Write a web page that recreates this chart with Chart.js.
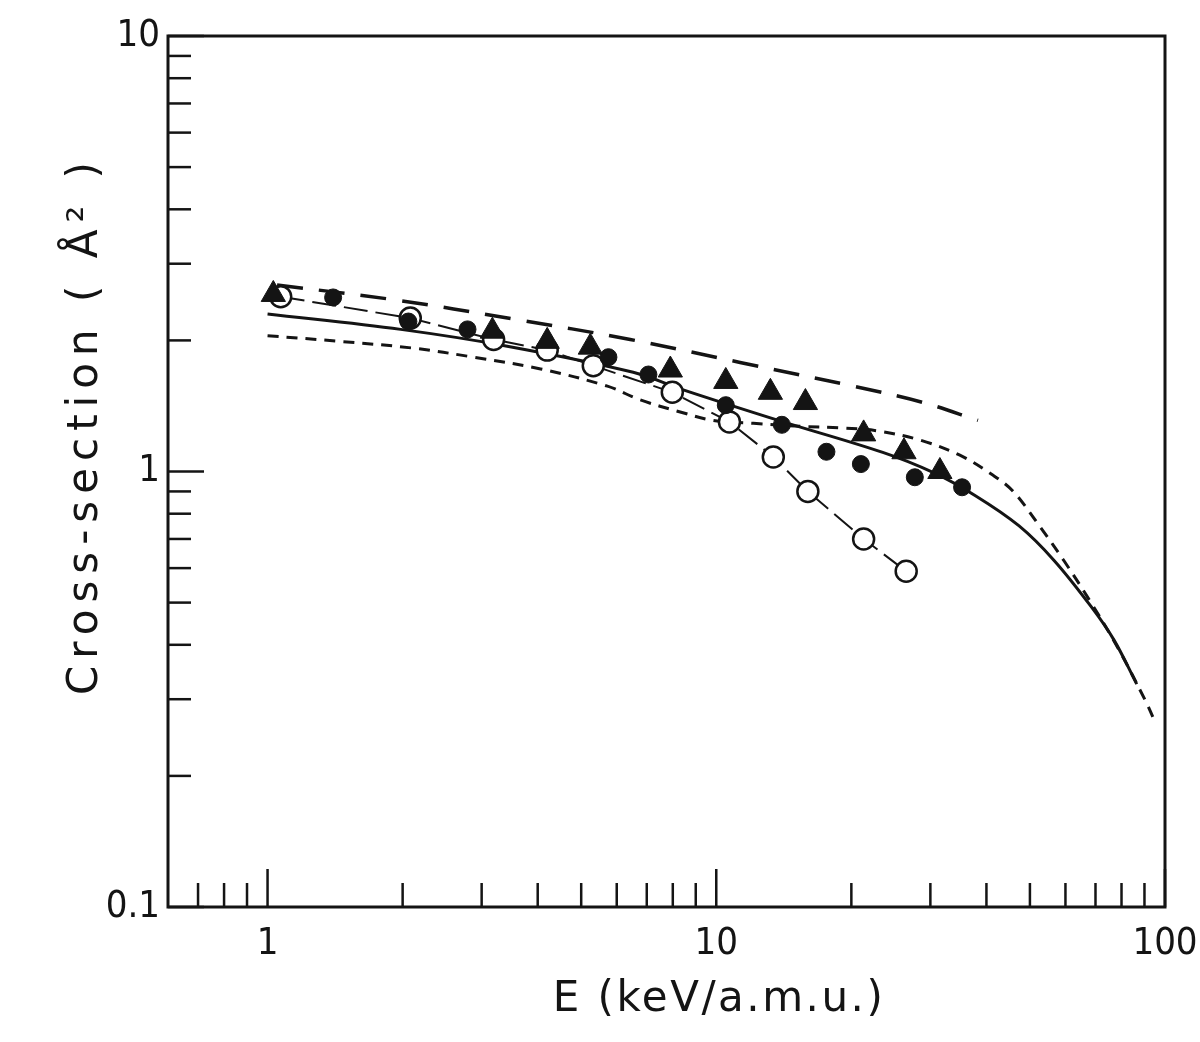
<!DOCTYPE html>
<html lang="en">
<head>
<meta charset="UTF-8">
<title>Cross-section vs E</title>
<script src="https://cdn.jsdelivr.net/npm/chart.js@4.4.1/dist/chart.umd.min.js"></script>
<style>
  html, body { margin: 0; padding: 0; background: #fff; }
  canvas { display: block; }
</style>
</head>
<body>
<canvas id="grafico" width="1200" height="1042"></canvas>
<script>
// Triángulos llenos (energía en keV/a.m.u., sección eficaz en Å²)
const energiaTriangulos = [1.03, 3.17, 4.2, 5.24, 7.9, 10.5, 13.2, 15.8, 21.3, 26.2, 31.5];
const seccionTriangulos = [2.55, 2.10, 1.99, 1.93, 1.71, 1.61, 1.52, 1.44, 1.22, 1.11, 1.00];

// Círculos llenos
const energiaPuntos = [1.40, 2.06, 2.79, 5.75, 7.06, 10.5, 14.0, 17.6, 21.0, 27.7, 35.3];
const seccionPuntos = [2.51, 2.21, 2.12, 1.83, 1.67, 1.42, 1.28, 1.11, 1.04, 0.97, 0.92];

// Círculos abiertos (unidos con línea)
const energiaAbiertos = [1.07, 2.08, 3.19, 4.2, 5.32, 7.98, 10.7, 13.4, 16.0, 21.3, 26.5];
const seccionAbiertos = [2.52, 2.25, 2.01, 1.90, 1.75, 1.52, 1.30, 1.08, 0.90, 0.70, 0.59];

// Curva teórica de trazo largo
const energiaTrazoLargo = [1.05, 1.91, 3.53, 6.43, 11.3, 20.2, 28.9, 38.3];
const seccionTrazoLargo = [2.68, 2.48, 2.24, 2.01, 1.78, 1.57, 1.44, 1.31];

// Curva teórica continua
const energiaContinua = [1.0, 1.98, 3.42, 6.53, 8.44, 14.1, 23.5, 30.4, 37.8, 47.3, 56.6, 68.4, 77.0, 86.5];
const seccionContinua = [2.30, 2.12, 1.94, 1.69, 1.54, 1.30, 1.106, 0.995, 0.88, 0.75, 0.625, 0.49, 0.41, 0.325];

// Curva teórica de trazo corto
const energiaTrazoCorto = [1.0, 1.45, 2.11, 2.88, 4.06, 5.72, 6.77, 8.31, 9.85, 12.1, 15.4, 18.9, 22.8, 28.5, 34.9, 41.4, 45.9, 52.7, 59.6, 68.4, 78.6, 90.7, 94];
const seccionTrazoCorto = [2.05, 1.99, 1.92, 1.83, 1.72, 1.57, 1.46, 1.37, 1.31, 1.29, 1.27, 1.26, 1.24, 1.18, 1.09, 0.98, 0.90, 0.746, 0.623, 0.50, 0.393, 0.296, 0.273];

// Marcas de los ejes y sus etiquetas
const marcasX = [0.7, 0.8, 0.9, 1, 2, 3, 4, 5, 6, 7, 8, 9, 10, 20, 30, 40, 50, 60, 70, 80, 90, 100];
const etiquetasX = { 1: '1', 10: '10', 100: '100' };
const marcasY = [0.1, 0.2, 0.3, 0.4, 0.5, 0.6, 0.7, 0.8, 0.9, 1, 2, 3, 4, 5, 6, 7, 8, 9, 10];
const etiquetasY = { 0.1: '0.1', 1: '1', 10: '10' };

const tituloX = 'E (keV/a.m.u.)';
const tituloY = 'Cross-section ( Å² )';

const tinta = '#141414';

// Convierte dos listas en puntos {x, y}
function unirPuntos(xs, ys) {
    return xs.map((x, i) => ({ x: x, y: ys[i] }));
}

// Marco y marcas hacia adentro
const marcasInternas = {
    id: 'marcasInternas',
    beforeDatasetsDraw(chart) {
        const { ctx, chartArea: a, scales } = chart;
        ctx.save();
        ctx.strokeStyle = tinta;
        ctx.lineWidth = 2.5;
        scales.x.ticks.forEach(t => {
            const px = scales.x.getPixelForValue(t.value);
            const largo = etiquetasX[t.value] ? 38 : 24;
            ctx.beginPath();
            ctx.moveTo(px, a.bottom);
            ctx.lineTo(px, a.bottom - largo);
            ctx.stroke();
        });
        scales.y.ticks.forEach(t => {
            const py = scales.y.getPixelForValue(t.value);
            const largo = etiquetasY[t.value] ? 36 : 23;
            ctx.beginPath();
            ctx.moveTo(a.left, py);
            ctx.lineTo(a.left + largo, py);
            ctx.stroke();
        });
        ctx.lineWidth = 3;
        ctx.strokeRect(a.left, a.top, a.right - a.left, a.bottom - a.top);
        ctx.restore();
    }
};

// Títulos de los ejes
const titulosEjes = {
    id: 'titulosEjes',
    afterDraw(chart) {
        const ctx = chart.ctx;
        ctx.save();
        ctx.fillStyle = tinta;
        ctx.textAlign = 'center';
        ctx.textBaseline = 'middle';
        ctx.font = '42px "DejaVu Sans"';
        ctx.letterSpacing = '2.5px';
        ctx.fillText(tituloX, 719, 1000);
        ctx.translate(86, 425);
        ctx.rotate(-Math.PI / 2);
        ctx.letterSpacing = '7px';
        ctx.fillText(tituloY, 0, 0);
        ctx.restore();
    }
};

Chart.defaults.font.family = '"Liberation Sans Narrow", "DejaVu Sans Condensed", "DejaVu Sans", sans-serif';
Chart.defaults.color = tinta;

const ctxGrafico = document.getElementById('grafico').getContext('2d');
const grafico = new Chart(ctxGrafico, {
    type: 'scatter',
    data: {
        datasets: [
            {
                data: unirPuntos(energiaTriangulos, seccionTriangulos),
                pointStyle: 'triangle',
                pointRadius: 14,
                backgroundColor: tinta,
                borderColor: tinta,
                borderWidth: 1,
                showLine: false
            },
            {
                data: unirPuntos(energiaPuntos, seccionPuntos),
                pointStyle: 'circle',
                pointRadius: 8.5,
                backgroundColor: tinta,
                borderColor: tinta,
                borderWidth: 1,
                showLine: false
            },
            {
                data: unirPuntos(energiaAbiertos, seccionAbiertos),
                pointStyle: 'circle',
                pointRadius: 10.5,
                pointBackgroundColor: '#fff',
                pointBorderColor: tinta,
                pointBorderWidth: 2.5,
                borderColor: tinta,
                borderWidth: 2,
                borderDash: [24, 8],
                showLine: true
            },
            {
                data: unirPuntos(energiaTrazoLargo, seccionTrazoLargo),
                pointRadius: 0,
                borderColor: tinta,
                borderWidth: 3.5,
                borderDash: [26, 16],
                tension: 0.35,
                showLine: true
            },
            {
                data: unirPuntos(energiaContinua, seccionContinua),
                pointRadius: 0,
                borderColor: tinta,
                borderWidth: 3,
                tension: 0.35,
                showLine: true
            },
            {
                data: unirPuntos(energiaTrazoCorto, seccionTrazoCorto),
                pointRadius: 0,
                borderColor: tinta,
                borderWidth: 3,
                borderDash: [11, 8],
                tension: 0.35,
                showLine: true
            }
        ]
    },
    options: {
        responsive: false,
        animation: false,
        devicePixelRatio: 1,
        layout: { padding: { top: 36, right: 35, left: 0, bottom: 0 } },
        plugins: {
            legend: { display: false },
            tooltip: { enabled: false }
        },
        scales: {
            x: {
                type: 'logarithmic',
                min: 0.6,
                max: 100,
                grid: { display: false, drawTicks: false },
                border: { display: false },
                afterBuildTicks: (scale) => {
                    scale.ticks = marcasX.map(v => ({ value: v }));
                },
                afterFit: (scale) => {
                    scale.height = 135;
                    scale.paddingRight = 0;
                    scale.paddingLeft = 0;
                },
                ticks: {
                    autoSkip: false,
                    maxRotation: 0,
                    padding: 14,
                    font: { size: 38 },
                    callback: (valor) => etiquetasX[valor] || ''
                }
            },
            y: {
                type: 'logarithmic',
                min: 0.1,
                max: 10,
                grid: { display: false, drawTicks: false },
                border: { display: false },
                afterBuildTicks: (scale) => {
                    scale.ticks = marcasY.map(v => ({ value: v }));
                },
                afterFit: (scale) => {
                    scale.width = 168;
                    scale.paddingTop = 0;
                    scale.paddingBottom = 0;
                },
                ticks: {
                    autoSkip: false,
                    padding: 8,
                    font: { size: 38 },
                    callback: (valor) => etiquetasY[valor] || ''
                }
            }
        }
    },
    plugins: [marcasInternas, titulosEjes]
});
</script>
</body>
</html>
